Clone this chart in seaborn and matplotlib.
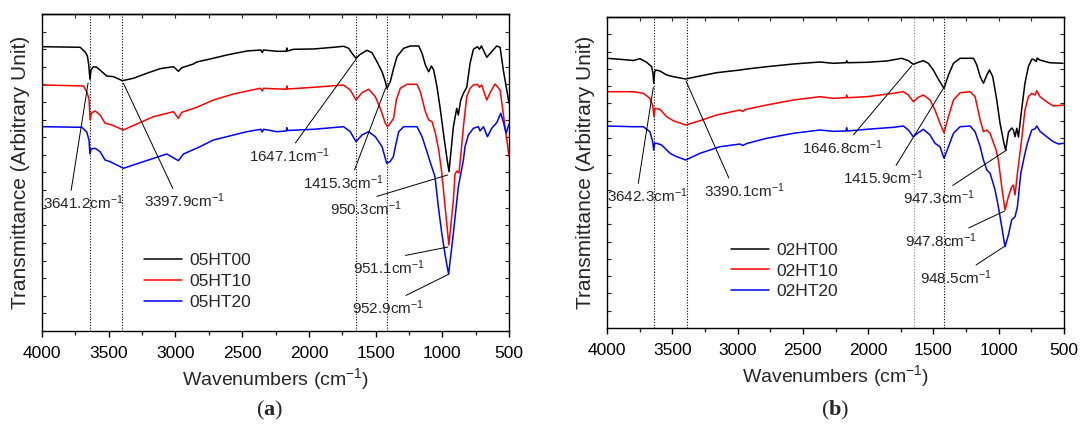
import numpy as np
import pandas as pd
import matplotlib
matplotlib.use("Agg")
import matplotlib.pyplot as plt
import seaborn as sns

# ---------------- panel (a): 05HT series ----------------
A_names = ["05HT00", "05HT10", "05HT20"]
A00_wn = [4000, 3715, 3677, 3660, 3650, 3641, 3633, 3615, 3590, 3552, 3515, 3465, 3398, 3315, 3215,
          3115, 3015, 2978, 2952, 2865, 2840, 2740, 2615, 2465, 2360, 2350, 2340, 2240, 2170, 2165,
          2160, 2115, 1965, 1815, 1740, 1702, 1677, 1647, 1615, 1565, 1527, 1490, 1452, 1427, 1415,
          1390, 1365, 1340, 1290, 1240, 1177, 1152, 1127, 1102, 1082, 1065, 1040, 1015, 992, 967,
          950, 917, 892, 880, 862, 842, 817, 792, 767, 737, 722, 707, 667, 630, 592, 567, 543, 500]
A00_t = [284.3, 283.7, 279, 275, 266, 251.7, 261, 264.3, 263.7, 259.3, 255, 254.3, 250.3, 252.7, 257.7,
         262.3, 264.3, 259.7, 263.3, 267, 269, 272, 276, 280, 281, 278.5, 281, 279.7, 279.7, 283,
         280, 281.7, 282, 283.7, 284.7, 282.7, 277.7, 272.7, 276.7, 280.7, 278.3, 269.3, 259.3, 249.3, 242.7,
         249.3, 262.7, 274.3, 282.7, 285, 285, 277.7, 266, 259.3, 265, 261, 244.3, 221.5, 198, 174,
         159.3, 204.3, 222.7, 216, 231, 237.7, 243.7, 267.7, 281.7, 284.3, 281.7, 285, 273.7, 279.3, 285, 283.7, 261, 227.7]

A10_wn = [4000, 3690, 3665, 3648, 3640, 3630, 3602, 3565, 3527, 3477, 3390, 3290, 3165, 3015, 2978,
          2952, 2840, 2715, 2565, 2365, 2350, 2340, 2170, 2165, 2160, 1965, 1740, 1690, 1647, 1602,
          1552, 1502, 1465, 1427, 1410, 1390, 1365, 1345, 1315, 1265, 1190, 1165, 1127, 1102, 1077,
          1052, 1027, 1004, 979, 951, 917, 905, 890, 875, 862, 842, 817, 792, 767, 737, 722, 705,
          667, 642, 605, 567, 530, 500]
A10_t = [246, 245, 239.3, 232, 211, 218, 220, 216, 207.7, 206, 201, 207, 214.3, 219.3, 212.7,
         218.7, 223.7, 231, 237, 242.7, 240, 242.7, 241.7, 245, 242, 243.7, 246, 241, 231, 238.3,
         241.7, 234.3, 222.7, 207.7, 204.3, 207.7, 212.7, 231, 242.7, 246.7, 246.7, 239.3, 219.3, 211, 209.3,
         197.7, 181, 158, 124, 86, 131, 157, 160, 158, 175, 204.3, 234.3, 242.7, 246, 246.7, 243.7, 246,
         231, 238.3, 247, 241, 204.3, 174.3]

A20_wn = [4000, 3702, 3665, 3648, 3641, 3633, 3602, 3565, 3528, 3490, 3390, 3241, 3065, 2978, 2940,
          2816, 2716, 2615, 2465, 2360, 2350, 2340, 2240, 2170, 2165, 2160, 1965, 1740, 1690, 1647,
          1602, 1552, 1502, 1452, 1417, 1392, 1367, 1352, 1327, 1290, 1190, 1152, 1127, 1117, 1092,
          1055, 1030, 1004, 979, 953, 917, 880, 842, 830, 805, 767, 730, 717, 692, 662, 630, 592,
          562, 543, 522, 500]
A20_t = [204.3, 203.7, 199, 191, 177, 182, 182.7, 179.3, 171, 169.3, 162.7, 169.3, 177, 170.3, 177,
         184.3, 191, 194.3, 199.3, 201.7, 199, 201.7, 199.3, 200, 203.3, 200.5, 201.7, 204.3, 199.3, 189.3,
         196, 199.3, 194.3, 184.3, 167.7, 169.3, 174.3, 184.3, 199.3, 204.3, 204.3, 194.3, 184, 180, 169.3,
         154.3, 124.3, 97.7, 76, 56.7, 98, 144.3, 171, 184.3, 196, 202.7, 204.3, 200, 204.3, 194.3, 202.7, 208.3,
         217.7, 209.3, 197.7, 207]

A_peaks = [3641.2, 3397.9, 1647.1, 1415.3]

# ---------------- panel (b): 02HT series ----------------
B_names = ["02HT00", "02HT10", "02HT20"]
B00_wn = [4000, 3900, 3798, 3747, 3696, 3658, 3648, 3642, 3635, 3627, 3594, 3543, 3492, 3397, 3288,
          3160, 2981, 2930, 2777, 2573, 2369, 2267, 2170, 2164, 2158, 2011, 1858, 1743, 1692, 1654,
          1616, 1577, 1539, 1501, 1462, 1419, 1385, 1347, 1296, 1193, 1168, 1142, 1117, 1091, 1071,
          1046, 1015, 990, 960, 947, 925, 900, 888, 875, 862, 849, 825, 799, 773, 747, 735, 712,
          706, 686, 610, 508]
B00_t = [269.7, 268.7, 267.5, 269.3, 265.7, 261.3, 255, 244.7, 256, 258, 257, 253, 251.3, 249, 252,
         255.3, 258, 259, 261.3, 264, 266, 264.7, 265.3, 267.3, 265.3, 265.7, 267, 269.7, 267.3, 263.7,
         265.7, 267.3, 264.7, 258, 248.7, 239.7, 253, 264.7, 269.7, 269.7, 263, 251.3, 244.7, 253, 258,
         251.3, 228, 204.7, 184.7, 178, 196, 200, 198, 191.3, 199.7, 191, 218, 245, 261.3, 268.7, 268.7, 266.5,
         270, 268, 265.3, 264.7]

B10_wn = [4000, 3798, 3722, 3671, 3650, 3640, 3632, 3594, 3543, 3492, 3397, 3288, 3160, 2981, 2960,
          2940, 2777, 2573, 2369, 2267, 2170, 2164, 2158, 2011, 1807, 1730, 1692, 1654, 1616, 1577,
          1526, 1488, 1450, 1419, 1385, 1347, 1296, 1219, 1181, 1142, 1117, 1091, 1066, 1040, 1020,
          1003, 977, 952, 926, 901, 888, 875, 857, 831, 799, 773, 747, 722, 709, 684, 633, 582, 505]
B10_t = [236.3, 236.3, 234.7, 229.7, 222.7, 211.3, 219.7, 218.7, 211.3, 207.3, 203, 207.3, 213, 218, 216.5,
         218.5, 223, 228, 231.3, 229.7, 230.3, 233, 230.3, 231.3, 234.7, 236.3, 233, 226.3, 230.7, 233,
         228, 218, 204.7, 195.3, 211.3, 228, 235.3, 236.3, 231.3, 208, 196.3, 198, 194.7, 185, 178,
         168, 141.3, 118, 131.3, 141.3, 143, 133, 154.7, 181.3, 218, 231.3, 234.7, 233, 237.3, 231.3, 226.3, 222, 223]

B20_wn = [4000, 3798, 3722, 3671, 3650, 3642, 3635, 3620, 3581, 3517, 3466, 3397, 3288, 3135, 2981,
          2960, 2930, 2777, 2573, 2369, 2267, 2170, 2164, 2158, 2011, 1807, 1730, 1692, 1654, 1616,
          1577, 1526, 1488, 1450, 1419, 1385, 1347, 1296, 1219, 1181, 1142, 1117, 1091, 1066, 1028,
          1003, 977, 952, 926, 901, 875, 857, 831, 799, 780, 760, 747, 722, 709, 684, 633, 582, 543, 505]
B20_t = [202, 201.3, 201.3, 196.3, 186.3, 178, 184.7, 184.7, 183, 174.7, 171.3, 168, 174.7, 181.3, 184,
         182.5, 184.5, 189.7, 194.7, 198, 196.7, 197, 200.3, 197, 198.7, 200.7, 202, 198, 191.3, 195.3,
         198.7, 193, 184.7, 181.3, 169.7, 181.3, 194.7, 201.3, 202, 196.3, 181.3, 168, 158, 154.7, 138,
         121.3, 101.3, 81.3, 93, 108, 111.3, 121.3, 154.7, 174.7, 185, 193, 198, 199.3, 202, 196.7, 191.3, 186.3, 184, 184.7]

B_peaks = [3642.3, 3390.1, 1646.8, 1415.9]

# ---------------- style ----------------
sns.set_style("ticks")
plt.rcParams["font.family"] = ["Liberation Sans", "DejaVu Sans"]
plt.rcParams["mathtext.fontset"] = "custom"
plt.rcParams["mathtext.rm"] = "Liberation Sans"
plt.rcParams["mathtext.it"] = "Liberation Sans:italic"
plt.rcParams["mathtext.bf"] = "Liberation Serif:bold"
plt.rcParams["axes.linewidth"] = 1.0
plt.rcParams["axes.edgecolor"] = "black"

COLORS = ["black", "#ff0000", "#0000ff"]
CM = r"cm$^{-1}$"


def long_frame(names, wns, ts):
    parts = [pd.DataFrame({"wn": w, "T": t, "sample": n}) for n, w, t in zip(names, wns, ts)]
    return pd.concat(parts, ignore_index=True)


def draw_panel(ax, df, names, peaks, gray_peak, ytop, notes, leg_anchor):
    sns.lineplot(data=df, x="wn", y="T", hue="sample", hue_order=names,
                 palette=COLORS, linewidth=1.1, estimator=None, sort=True, ax=ax)
    for p in peaks:
        ax.axvline(p, color=("#888888" if p == gray_peak else "black"),
                   linestyle=(0, (1, 1.5)), linewidth=0.8, zorder=0)
    for text, txy, tip, rel in notes:
        ax.annotate(text + CM, xy=tip, xytext=txy, ha="center", va="center", fontsize=11,
                    arrowprops=dict(arrowstyle="-", color="black", lw=0.7,
                                    shrinkA=0, shrinkB=0, relpos=rel))
    ax.set_xlim(4000, 500)
    ax.set_ylim(0, ytop)
    ax.set_xticks(np.arange(4000, 499, -500))
    ax.set_xticks(np.arange(3750, 500, -500), minor=True)
    ax.set_yticks(np.linspace(0, ytop, 19))
    ax.set_yticklabels([])
    ax.tick_params(axis="x", which="major", direction="out", length=4.5, width=1.0,
                   labelsize=12.5, pad=6, colors="black")
    ax.tick_params(axis="x", which="minor", direction="out", length=3, width=1.0)
    ax.tick_params(axis="y", which="major", direction="in", length=3, width=0.8,
                   left=True, right=True)
    top = ax.secondary_xaxis("top")
    top.set_xticks(np.arange(4000, 499, -250))
    top.set_xticklabels([])
    top.tick_params(direction="in", length=3, width=0.8)
    for s in ax.spines.values():
        s.set_visible(True)
        s.set_linewidth(1.0)
    ax.set_xlabel("Wavenumbers (" + CM + ")", fontsize=14, labelpad=4)
    ax.set_ylabel("Transmittance (Arbitrary Unit)", fontsize=15, labelpad=5)
    handles, labels = ax.get_legend_handles_labels()
    ax.legend(handles, labels, loc="upper left", bbox_to_anchor=leg_anchor, frameon=False,
              fontsize=12.5, handlelength=2.2, handletextpad=0.4, labelspacing=0.33,
              borderpad=0, borderaxespad=0)


fig = plt.figure(figsize=(10.81, 4.25), dpi=100)
axA = fig.add_axes([0.0389, 0.2212, 0.432, 0.7459])
axB = fig.add_axes([0.5615, 0.2282, 0.4228, 0.7318])

dfA = long_frame(A_names, [A00_wn, A10_wn, A20_wn], [A00_t, A10_t, A20_t])
dfB = long_frame(B_names, [B00_wn, B10_wn, B20_wn], [B00_t, B10_t, B20_t])

notesA = [("3641.2", (3689, 128), (3655, 248), (0.34, 1)),
          ("3397.9", (2936, 130), (3390, 247.7), (0.38, 1)),
          ("1647.1", (2149, 175.5), (1647, 271.7), (0.55, 1)),
          ("1415.3", (1740, 148.5), (1425, 243), (0.62, 1)),
          ("950.3", (1572, 122), (960, 156), (0.5, 1)),
          ("951.1", (1399, 63), (958, 84), (0.5, 1)),
          ("952.9", (1403, 23), (953, 56.7), (0.65, 1))]
notesB = [("3642.3", (3690, 132), (3645, 240.7), (0.38, 1)),
          ("3390.1", (2951, 137.5), (3395, 247), (0.33, 1)),
          ("1646.8", (2196, 180.5), (1666, 262.3), (0.6, 1)),
          ("1415.9", (1882, 150), (1424, 239.7), (0.63, 1)),
          ("947.3", (1457, 130), (939, 178), (0.62, 1)),
          ("947.8", (1438, 87.5), (955, 117), (0.78, 1)),
          ("948.5", (1323, 50.5), (960, 81.3), (0.7, 1))]

draw_panel(axA, dfA, A_names, A_peaks, None, 317, notesA, (0.218, 0.245))
draw_panel(axB, dfB, B_names, B_peaks, 1646.8, 311, notesB, (0.271, 0.275))

fig.text(270 / 1081, 1 - 410 / 425, r"$\mathregular{(}\mathbf{a}\mathregular{)}$",
         family="Liberation Serif", fontsize=16, ha="center", va="center")
fig.text(835 / 1081, 1 - 410 / 425, r"$\mathregular{(}\mathbf{b}\mathregular{)}$",
         family="Liberation Serif", fontsize=16, ha="center", va="center")

fig.savefig("out.png", dpi=100)
